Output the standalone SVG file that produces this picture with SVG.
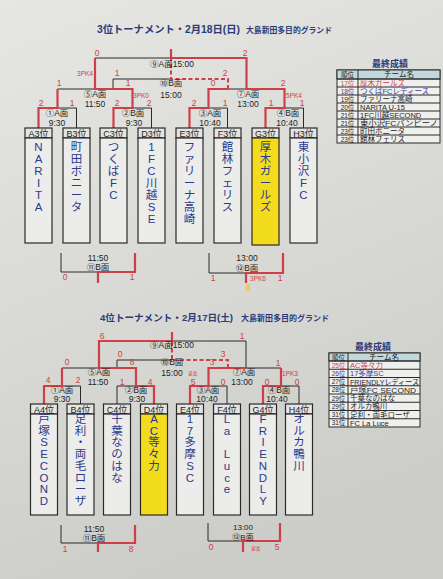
<svg xmlns="http://www.w3.org/2000/svg" width="443" height="579" viewBox="0 0 443 579">
<defs>
<linearGradient id="bg" x1="0" y1="0" x2="0.3" y2="1">
<stop offset="0" stop-color="#e6e6e3"/>
<stop offset="0.5" stop-color="#dadad6"/>
<stop offset="1" stop-color="#cdcdc9"/>
</linearGradient>
<style>
.ln{stroke:#2a2a2a;stroke-width:1;fill:none}
.rd{stroke:#cf3f48;stroke-width:2.2;fill:none;stroke-linejoin:miter}
.rdd{stroke:#cf3f48;stroke-width:2;fill:none;stroke-dasharray:4 2.5}
text{font-family:"Liberation Sans","Noto Sans CJK JP",sans-serif}
.lbl{font-size:8.5px;fill:#1e1e1e;text-anchor:middle}
.sm{font-size:8px}
.sc{font-size:8.5px;fill:#cf3f48;text-anchor:middle}
.pk{font-size:6.5px;fill:#cf3f48;text-anchor:middle}
.tiny{font-size:4.5px;fill:#cf3f48;text-anchor:middle}
.nm{font-size:11.5px;fill:#2d3a8c;text-anchor:middle}
.hd{font-size:9px;fill:#1e1e1e;text-anchor:middle}
.box{fill:#ececea;stroke:#2a2a2a;stroke-width:1.2}
.yel{fill:#f2dc1c;stroke:#2a2a2a;stroke-width:1.2}
.hbox{fill:#e4e4e2;stroke:#2a2a2a;stroke-width:1.2}
.ttl{fill:#2b3a78;font-weight:bold}
.tt{font-size:9px;fill:#2b3a78;text-anchor:middle;font-weight:bold}
.tb{fill:#efefed;stroke:#2a2a2a;stroke-width:1}
.th{fill:#c3d8dc;stroke:#2a2a2a;stroke-width:1}
.rk{font-size:6.5px;fill:#1e1e1e;text-anchor:middle}
.tn{font-size:7.5px;fill:#1e1e1e}
.red{fill:#cf3f48}
.blu{fill:#3b3f9a}
</style>
</defs>
<rect x="0" y="0" width="443" height="579" fill="url(#bg)"/>

<!-- titles -->
<text class="ttl" x="97" y="33" font-size="10.3" textLength="143" lengthAdjust="spacingAndGlyphs">3位トーナメント・2月18日(日)</text>
<text class="ttl" x="246" y="33" font-size="7.8" textLength="86" lengthAdjust="spacingAndGlyphs">大島新田多目的グランド</text>
<text class="ttl" x="100" y="321" font-size="9.6" textLength="133" lengthAdjust="spacingAndGlyphs">4位トーナメント・2月17日(土)</text>
<text class="ttl" x="241" y="321" font-size="8" textLength="88" lengthAdjust="spacingAndGlyphs">大島新田多目的グランド</text>

<!-- connectors -->
<g id="connectors">
<path class="ln" d="M38.5,128 V108 H76.5 V128 M113.5,128 V108 H151.5 V128 M189.5,128 V108 H227.5 V128 M265.5,128 V108 H303.5 V128 M57.5,108 V89 H132.5 V108 M208.5,108 V89 H284.5 V108 M95,89 V58 H246.5 V89 M171,58 V49 M113,89 V79 H171"/>
<path class="rd" d="M38.5,128 V108 H57.5 V89"/>
<path class="rd" d="M113.5,128 V108 H132.5 V89 H95 V58"/>
<path class="rd" d="M189.5,128 V108 H208.5 V89 H228"/>
<path class="rd" d="M265.5,128 V108 H284.5 V89 H246.5 V58 H171 V49"/>
<path class="rdd" d="M228,89 V79 H171 V58"/>
<path class="ln" d="M61,253 V272 H98 M209,253 V273 H246"/>
<path class="rd" d="M98,283 V272 H135 V253"/>
<path class="rd" d="M246,283 V273 H283 V253"/>
<rect x="246" y="284" width="4" height="7" fill="#e3c85a" opacity="0.8"/>

<path class="ln" d="M44,404 V386 H80.5 V404 M117,404 V386 H154 V404 M190,404 V386 H227 V404 M263,404 V386 H299 V404 M62,386 V368 H136 V386 M208.5,386 V368 H281 V386 M99,368 V341 H246 V368 M172,341 V332 M117,368 V360 H172"/>
<path class="rd" d="M44,404 V386 H62 V368"/>
<path class="rd" d="M154,404 V386 H136 V368 H99 V341 H172 V332"/>
<path class="rd" d="M190,404 V386 H208.5 V368 H246"/>
<path class="rd" d="M263,404 V386 H281 V368"/>
<path class="rdd" d="M228,368 V360 H172 V341"/>
<path class="ln" d="M61,525 V543 H98 M208,523 V541 H243"/>
<path class="rd" d="M98,552 V543 H135 V525"/>
<path class="rd" d="M243,552 V541 H280 V523"/>
</g>

<g id="matches-top">
<text class="lbl" x="172" y="67">⑨A面15:00</text>
<text class="lbl" x="171" y="86">⑩B面</text>
<text class="lbl" x="171" y="98">15:00</text>
<text class="lbl" x="95" y="97">⑤A面</text>
<text class="lbl" x="95" y="107">11:50</text>
<text class="lbl" x="248" y="97">⑦A面</text>
<text class="lbl" x="248" y="107">13:00</text>
<text class="lbl" x="57" y="116">①A面</text>
<text class="lbl" x="57" y="126">9:30</text>
<text class="lbl" x="133" y="116">②B面</text>
<text class="lbl" x="134" y="126">9:30</text>
<text class="lbl" x="210" y="116">③A面</text>
<text class="lbl" x="210" y="126">10:40</text>
<text class="lbl" x="288" y="116">④B面</text>
<text class="lbl" x="287" y="126">10:40</text>
<text class="lbl" x="98" y="261">11:50</text>
<text class="lbl" x="98" y="270">⑪B面</text>
<text class="lbl" x="247" y="261">13:00</text>
<text class="lbl" x="247" y="270.5">⑫B面</text>
<text class="sc" x="97" y="56">0</text>
<text class="sc" x="245" y="56">2</text>
<text class="pk" x="85" y="76">3PK4</text>
<text class="sc" x="117" y="76">1</text>
<text class="sc" x="225" y="76">2</text>
<text class="sc" x="59" y="86">1</text>
<text class="sc" x="128" y="86">1</text>
<text class="sc" x="213" y="86">0</text>
<text class="sc" x="283" y="86">2</text>
<text class="pk" x="141" y="98">3PK0</text>
<text class="pk" x="294" y="98">5PK4</text>
<text class="sc" x="41" y="106">2</text>
<text class="sc" x="72" y="106">1</text>
<text class="sc" x="117" y="106">2</text>
<text class="sc" x="149" y="106">2</text>
<text class="sc" x="194" y="106">2</text>
<text class="sc" x="225" y="106">1</text>
<text class="sc" x="271" y="106">1</text>
<text class="sc" x="302" y="106">1</text>
<text class="sc" x="65" y="280">0</text>
<text class="sc" x="132" y="280">1</text>
<text class="sc" x="213" y="281">1</text>
<text class="pk" x="258" y="281">3PK6</text>
<text class="sc" x="280" y="281">1</text>
</g>

<g id="matches-bottom">
<text class="lbl" x="172" y="348">⑨A面15:00</text>
<text class="lbl" x="172" y="365">⑩B面</text>
<text class="lbl" x="172" y="376">15:00</text>
<text class="lbl" x="99" y="375">⑤A面</text>
<text class="lbl" x="98" y="385">11:50</text>
<text class="lbl" x="244" y="375">⑦A面</text>
<text class="lbl" x="242" y="385">13:00</text>
<text class="lbl" x="62" y="393">①A面</text>
<text class="lbl" x="62" y="402">9:30</text>
<text class="lbl" x="136" y="393">②B面</text>
<text class="lbl" x="137" y="402">9:30</text>
<text class="lbl" x="208" y="393">③A面</text>
<text class="lbl" x="207" y="402">10:40</text>
<text class="lbl" x="279" y="393">④B面</text>
<text class="lbl" x="277" y="402">10:40</text>
<text class="lbl" x="94" y="531.5">11:50</text>
<text class="lbl" x="94" y="540.5">⑪B面</text>
<text class="lbl sm" x="243" y="530">13:00</text>
<text class="lbl sm" x="243" y="539.5">⑫B面</text>
<text class="sc" x="102" y="339">6</text>
<text class="sc" x="242" y="339">1</text>
<text class="sc" x="120" y="357">0</text>
<text class="sc" x="223" y="357">3</text>
<text class="sc" x="67" y="365">0</text>
<text class="sc" x="132" y="365">8</text>
<text class="sc" x="212" y="365">3</text>
<text class="sc" x="278" y="366">1</text>
<text class="pk" x="290" y="376">1PK3</text>
<text class="sc" x="48" y="383">4</text>
<text class="sc" x="78" y="383">2</text>
<text class="sc" x="122" y="385">1</text>
<text class="sc" x="150" y="385">4</text>
<text class="tiny" x="193" y="375">延長</text>
<text class="sc" x="193" y="385">5</text>
<text class="sc" x="223" y="385">0</text>
<text class="sc" x="267" y="385">0</text>
<text class="sc" x="297" y="385">0</text>
<text class="sc" x="65" y="552">1</text>
<text class="sc" x="131" y="552">8</text>
<text class="sc" x="211" y="550">0</text>
<text class="tiny" x="256" y="550">延長</text>
<text class="sc" x="277" y="550">5</text>
</g>

<g id="A3"><rect class="hbox" x="25" y="128" width="27" height="10"/><rect class="box" x="25" y="138" width="27" height="105"/><text class="hd" x="38.5" y="136.5">A3位</text>
<text class="nm" x="38.5" y="151">N</text><text class="nm" x="38.5" y="163">A</text><text class="nm" x="38.5" y="175">R</text><text class="nm" x="38.5" y="187">I</text><text class="nm" x="38.5" y="199">T</text><text class="nm" x="38.5" y="211">A</text></g>
<g id="B3"><rect class="hbox" x="63" y="128" width="27" height="10"/><rect class="box" x="63" y="138" width="27" height="105"/><text class="hd" x="76.5" y="136.5">B3位</text>
<text class="nm" x="76.5" y="151">町</text><text class="nm" x="76.5" y="163">田</text><text class="nm" x="76.5" y="175">ボ</text><text class="nm" x="76.5" y="187">ニ</text><text class="nm" x="76.5" y="199">ー</text><text class="nm" x="76.5" y="211">タ</text></g>
<g id="C3"><rect class="hbox" x="100" y="128" width="27" height="10"/><rect class="box" x="100" y="138" width="27" height="105"/><text class="hd" x="113.5" y="136.5">C3位</text>
<text class="nm" x="113.5" y="151">つ</text><text class="nm" x="113.5" y="163">く</text><text class="nm" x="113.5" y="175">ば</text><text class="nm" x="113.5" y="187">F</text><text class="nm" x="113.5" y="199">C</text></g>
<g id="D3"><rect class="hbox" x="138" y="128" width="27" height="10"/><rect class="box" x="138" y="138" width="27" height="105"/><text class="hd" x="151.5" y="136.5">D3位</text>
<text class="nm" x="151.5" y="151">1</text><text class="nm" x="151.5" y="163">F</text><text class="nm" x="151.5" y="175">C</text><text class="nm" x="151.5" y="187">川</text><text class="nm" x="151.5" y="199">越</text><text class="nm" x="151.5" y="211">S</text><text class="nm" x="151.5" y="223">E</text></g>
<g id="E3"><rect class="hbox" x="176" y="128" width="27" height="10"/><rect class="box" x="176" y="138" width="27" height="105"/><text class="hd" x="189.5" y="136.5">E3位</text>
<text class="nm" x="189.5" y="151">フ</text><text class="nm" x="189.5" y="163">ァ</text><text class="nm" x="189.5" y="175">リ</text><text class="nm" x="189.5" y="187">ー</text><text class="nm" x="189.5" y="199">ナ</text><text class="nm" x="189.5" y="211">高</text><text class="nm" x="189.5" y="223">崎</text></g>
<g id="F3"><rect class="hbox" x="214" y="128" width="27" height="10"/><rect class="box" x="214" y="138" width="27" height="105"/><text class="hd" x="227.5" y="136.5">F3位</text>
<text class="nm" x="227.5" y="151">館</text><text class="nm" x="227.5" y="163">林</text><text class="nm" x="227.5" y="175">フ</text><text class="nm" x="227.5" y="187">ェ</text><text class="nm" x="227.5" y="199">リ</text><text class="nm" x="227.5" y="211">ス</text></g>
<g id="G3"><rect class="hbox" x="252" y="128" width="27" height="10"/><rect class="yel" x="252" y="138" width="27" height="107"/><text class="hd" x="265.5" y="136.5">G3位</text>
<text class="nm" x="265.5" y="151">厚</text><text class="nm" x="265.5" y="163">木</text><text class="nm" x="265.5" y="175">ガ</text><text class="nm" x="265.5" y="187">ー</text><text class="nm" x="265.5" y="199">ル</text><text class="nm" x="265.5" y="211">ズ</text></g>
<g id="H3"><rect class="hbox" x="290" y="128" width="27" height="10"/><rect class="box" x="290" y="138" width="27" height="105"/><text class="hd" x="303.5" y="136.5">H3位</text>
<text class="nm" x="303.5" y="151">東</text><text class="nm" x="303.5" y="163">小</text><text class="nm" x="303.5" y="175">沢</text><text class="nm" x="303.5" y="187">F</text><text class="nm" x="303.5" y="199">C</text></g>

<g id="A4"><rect class="hbox" x="30.5" y="404" width="27" height="10"/><rect class="box" x="30.5" y="414" width="27" height="101"/><text class="hd" x="44" y="412.5">A4位</text>
<text class="nm" x="44" y="423">戸</text><text class="nm" x="44" y="434.7">塚</text><text class="nm" x="44" y="446.4">S</text><text class="nm" x="44" y="458.1">E</text><text class="nm" x="44" y="469.8">C</text><text class="nm" x="44" y="481.5">O</text><text class="nm" x="44" y="493.2">N</text><text class="nm" x="44" y="504.9">D</text></g>
<g id="B4"><rect class="hbox" x="67" y="404" width="27" height="10"/><rect class="box" x="67" y="414" width="27" height="101"/><text class="hd" x="80.5" y="412.5">B4位</text>
<text class="nm" x="80.5" y="423">足</text><text class="nm" x="80.5" y="434.7">利</text><text class="nm" x="80.5" y="446.4">・</text><text class="nm" x="80.5" y="458.1">両</text><text class="nm" x="80.5" y="469.8">毛</text><text class="nm" x="80.5" y="481.5">ロ</text><text class="nm" x="80.5" y="493.2">ー</text><text class="nm" x="80.5" y="504.9">ザ</text></g>
<g id="C4"><rect class="hbox" x="103.5" y="404" width="27" height="10"/><rect class="box" x="103.5" y="414" width="27" height="101"/><text class="hd" x="117" y="412.5">C4位</text>
<text class="nm" x="117" y="423">千</text><text class="nm" x="117" y="434.7">葉</text><text class="nm" x="117" y="446.4">な</text><text class="nm" x="117" y="458.1">の</text><text class="nm" x="117" y="469.8">は</text><text class="nm" x="117" y="481.5">な</text></g>
<g id="D4"><rect class="hbox" x="140.5" y="404" width="27" height="10"/><rect class="yel" x="140.5" y="414" width="27" height="101"/><text class="hd" x="154" y="412.5">D4位</text>
<text class="nm" x="154" y="423">A</text><text class="nm" x="154" y="434.7">C</text><text class="nm" x="154" y="446.4">等</text><text class="nm" x="154" y="458.1">々</text><text class="nm" x="154" y="469.8">力</text></g>
<g id="E4"><rect class="hbox" x="176.5" y="404" width="27" height="10"/><rect class="box" x="176.5" y="414" width="27" height="101"/><text class="hd" x="190" y="412.5">E4位</text>
<text class="nm" x="190" y="423">1</text><text class="nm" x="190" y="434.7">7</text><text class="nm" x="190" y="446.4">多</text><text class="nm" x="190" y="458.1">摩</text><text class="nm" x="190" y="469.8">S</text><text class="nm" x="190" y="481.5">C</text></g>
<g id="F4"><rect class="hbox" x="213.5" y="404" width="27" height="10"/><rect class="box" x="213.5" y="414" width="27" height="101"/><text class="hd" x="227" y="412.5">F4位</text>
<text class="nm" x="227" y="423">L</text><text class="nm" x="227" y="434.7">a</text><text class="nm" x="227" y="458.1">L</text><text class="nm" x="227" y="469.8">u</text><text class="nm" x="227" y="481.5">c</text><text class="nm" x="227" y="493.2">e</text></g>
<g id="G4"><rect class="hbox" x="249.5" y="404" width="27" height="10"/><rect class="box" x="249.5" y="414" width="27" height="101"/><text class="hd" x="263" y="412.5">G4位</text>
<text class="nm" x="263" y="423">F</text><text class="nm" x="263" y="434.7">R</text><text class="nm" x="263" y="446.4">I</text><text class="nm" x="263" y="458.1">E</text><text class="nm" x="263" y="469.8">N</text><text class="nm" x="263" y="481.5">D</text><text class="nm" x="263" y="493.2">L</text><text class="nm" x="263" y="504.9">Y</text></g>
<g id="H4"><rect class="hbox" x="285.5" y="404" width="27" height="10"/><rect class="box" x="285.5" y="414" width="27" height="101"/><text class="hd" x="299" y="412.5">H4位</text>
<text class="nm" x="299" y="423">オ</text><text class="nm" x="299" y="434.7">ル</text><text class="nm" x="299" y="446.4">カ</text><text class="nm" x="299" y="458.1">鴨</text><text class="nm" x="299" y="469.8">川</text></g>

<g id="results-top">
<text class="tt" x="390" y="67">最終成績</text>
<rect class="tb" x="337" y="70" width="103" height="73"/>
<rect class="th" x="337" y="70" width="103" height="9"/>
<path class="ln" d="M337,79 H440 M337,87 H440 M337,95 H440 M337,103 H440 M337,111 H440 M337,119 H440 M337,127 H440 M337,135 H440 M358,70 V143"/>
<text class="rk" x="347.5" y="77">順位</text><text class="tn" x="399" y="77.3" text-anchor="middle">チーム名</text>
<text class="rk red" x="347.5" y="85.5">17位</text><text class="tn red" x="360" y="86">厚木ガールズ</text>
<text class="rk blu" x="347.5" y="93.5">18位</text><text class="tn blu" x="360" y="94">つくばFCレディース</text>
<text class="rk" x="347.5" y="101.5">19位</text><text class="tn" x="360" y="102">ファリーナ高崎</text>
<text class="rk" x="347.5" y="109.5">20位</text><text class="tn" x="360" y="110">NARITA  U-15</text>
<text class="rk" x="347.5" y="117.5">21位</text><text class="tn" x="360" y="118">1FC川越SECOND</text>
<text class="rk" x="347.5" y="125.5">21位</text><text class="tn" x="360" y="126" textLength="78" lengthAdjust="spacingAndGlyphs">東小沢FCバンビーノ</text>
<text class="rk" x="347.5" y="133.5">23位</text><text class="tn" x="360" y="134">町田ボニータ</text>
<text class="rk" x="347.5" y="141.5">23位</text><text class="tn" x="360" y="142">館林フェリス</text>
</g>

<g id="results-bottom">
<text class="tt" x="373" y="350">最終成績</text>
<rect class="tb" x="329" y="353" width="91" height="74"/>
<rect class="th" x="329" y="353" width="91" height="8"/>
<path class="ln" d="M329,361 H420 M329,369.25 H420 M329,377.5 H420 M329,385.75 H420 M329,394 H420 M329,402.25 H420 M329,410.5 H420 M329,418.75 H420 M348,353 V427"/>
<text class="rk" x="338.5" y="359.5">順位</text><text class="tn" x="384" y="359.8" text-anchor="middle">チーム名</text>
<text class="rk red" x="338.5" y="367.5">25位</text><text class="tn red" x="350" y="368">AC等々力</text>
<text class="rk blu" x="338.5" y="375.7">26位</text><text class="tn blu" x="350" y="376.2">17多摩SC</text>
<text class="rk" x="338.5" y="384">27位</text><text class="tn" x="350" y="384.5" textLength="69" lengthAdjust="spacingAndGlyphs">FRIENDLYレディース</text>
<text class="rk" x="338.5" y="392.2">28位</text><text class="tn" x="350" y="392.7" textLength="66" lengthAdjust="spacingAndGlyphs">戸塚FC SECOND</text>
<text class="rk" x="338.5" y="400.5">29位</text><text class="tn" x="350" y="401">千葉なのはな</text>
<text class="rk" x="338.5" y="408.7">29位</text><text class="tn" x="350" y="409.2">オルカ鴨川</text>
<text class="rk" x="338.5" y="417">31位</text><text class="tn" x="350" y="417.5">足利・両毛ローザ</text>
<text class="rk" x="338.5" y="425.2">31位</text><text class="tn" x="350" y="425.7">FC La  Luce</text>
</g>
</svg>
